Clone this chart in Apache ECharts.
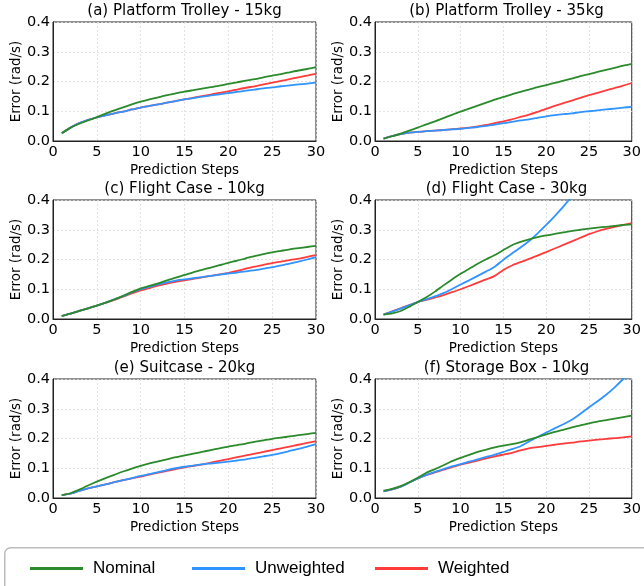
<!DOCTYPE html>
<html>
<head>
<meta charset="UTF-8">
<title>Prediction error</title>
<script src="https://cdn.jsdelivr.net/npm/echarts@6/dist/echarts.min.js"></script>
<style>
  html, body { margin: 0; padding: 0; background: #fff; }
  #chart { width: 644px; height: 586px; }
</style>
</head>
<body>
<div id="chart"></div>
<script>
// prediction steps 1..30
var steps = [1,2,3,4,5,6,7,8,9,10,11,12,13,14,15,16,17,18,19,20,21,22,23,24,25,26,27,28,29,30];
var seriesNames = ['Nominal', 'Unweighted', 'Weighted'];
var panelTitles = ['(a) Platform Trolley - 15kg', '(b) Platform Trolley - 35kg', '(c) Flight Case - 10kg',
                   '(d) Flight Case - 30kg', '(e) Suitcase - 20kg', '(f) Storage Box - 10kg'];
var xTicks = [0, 5, 10, 15, 20, 25, 30];
var yTicks = [0.0, 0.1, 0.2, 0.3, 0.4];

// (a)
var nominalA    = [.026,.045,.058,.069,.080,.092,.103,.113,.123,.132,.140,.147,.154,.160,.166,.171,.176,.181,.186,.192,.197,.203,.208,.214,.220,.225,.231,.237,.242,.248];
var unweightedA = [.026,.045,.060,.071,.079,.086,.093,.099,.106,.112,.118,.123,.129,.134,.140,.144,.149,.153,.157,.161,.165,.169,.173,.177,.180,.184,.187,.190,.193,.196];
var weightedA   = [.026,.045,.060,.071,.079,.086,.093,.099,.106,.112,.118,.123,.129,.134,.140,.145,.151,.156,.162,.167,.173,.179,.184,.190,.196,.202,.208,.214,.220,.226];
// (b)
var nominalB    = [.008,.016,.025,.035,.045,.056,.066,.077,.088,.099,.109,.119,.129,.139,.148,.157,.165,.173,.181,.188,.195,.203,.210,.218,.225,.232,.239,.246,.253,.259];
var unweightedB = [.008,.016,.023,.028,.031,.033,.035,.037,.039,.041,.044,.047,.051,.055,.060,.064,.069,.073,.078,.083,.087,.090,.093,.097,.100,.103,.106,.109,.112,.115];
var weightedB   = [.008,.016,.023,.028,.031,.033,.035,.037,.040,.042,.045,.049,.054,.060,.066,.073,.081,.089,.098,.108,.118,.127,.136,.145,.154,.162,.170,.178,.186,.195];
// (c)
var nominalC    = [.010,.018,.027,.036,.045,.055,.066,.078,.091,.103,.111,.120,.130,.139,.148,.157,.165,.173,.181,.189,.196,.204,.211,.218,.224,.229,.234,.238,.242,.246];
var unweightedC = [.010,.018,.027,.036,.045,.055,.066,.077,.089,.100,.108,.116,.123,.129,.133,.137,.141,.145,.149,.153,.156,.160,.164,.169,.174,.180,.186,.193,.200,.208];
var weightedC   = [.010,.018,.027,.036,.045,.054,.064,.075,.086,.096,.104,.112,.119,.125,.130,.135,.140,.145,.150,.155,.162,.169,.176,.182,.188,.193,.198,.203,.209,.215];
// (d)
var nominalD    = [.015,.019,.027,.041,.057,.073,.092,.113,.133,.152,.169,.186,.201,.215,.232,.248,.259,.268,.275,.281,.286,.291,.296,.300,.304,.307,.310,.313,.316,.318];
var unweightedD = [.015,.025,.035,.046,.057,.066,.076,.087,.101,.116,.130,.145,.160,.176,.199,.220,.240,.262,.288,.316,.346,.378,.412,.448];
var weightedD   = [.015,.026,.036,.047,.057,.064,.072,.080,.090,.100,.111,.122,.133,.145,.165,.180,.191,.202,.213,.225,.237,.249,.261,.273,.285,.295,.303,.310,.316,.322];
// (e)
var nominalE    = [.010,.016,.028,.042,.055,.067,.078,.089,.099,.108,.116,.123,.130,.137,.143,.149,.155,.161,.167,.173,.178,.183,.189,.194,.199,.203,.207,.211,.215,.219];
var unweightedE = [.010,.015,.024,.032,.039,.046,.053,.060,.067,.074,.080,.087,.094,.100,.105,.109,.113,.116,.119,.122,.126,.130,.135,.140,.145,.151,.158,.165,.173,.181];
var weightedE   = [.010,.015,.024,.032,.039,.046,.053,.060,.066,.072,.079,.085,.091,.097,.103,.108,.113,.119,.125,.131,.137,.143,.149,.155,.161,.167,.173,.179,.185,.191];
// (f)
var nominalF    = [.025,.031,.040,.053,.068,.085,.097,.110,.124,.135,.145,.155,.163,.170,.176,.181,.187,.196,.205,.214,.222,.229,.237,.244,.251,.257,.262,.267,.272,.277];
var unweightedF = [.022,.029,.038,.052,.066,.078,.088,.097,.106,.114,.122,.130,.138,.146,.155,.164,.174,.190,.205,.220,.234,.248,.263,.283,.305,.325,.347,.372,.400,.430];
var weightedF   = [.022,.029,.038,.052,.066,.077,.086,.095,.104,.112,.119,.126,.133,.140,.146,.152,.160,.167,.171,.175,.179,.183,.186,.190,.193,.196,.199,.201,.204,.207];

var panelData = [
  [nominalA, unweightedA, weightedA],
  [nominalB, unweightedB, weightedB],
  [nominalC, unweightedC, weightedC],
  [nominalD, unweightedD, weightedD],
  [nominalE, unweightedE, weightedE],
  [nominalF, unweightedF, weightedF]
];

var colors = ['#2b8a2b', '#2f94ff', '#ff3b3b'];
var font = 'DejaVu Sans';

var lefts = [53, 375];
var tops = [22, 200, 379];
var gw = 263, gh = 119;

var grids = [], xAxes = [], yAxes = [], titles = [], series = [];
for (var p = 0; p < 6; p++) {
  var col = p % 2, row = Math.floor(p / 2);
  var l = lefts[col], t = tops[row];
  grids.push({ left: l, top: t, width: gw, height: gh, show: true, borderColor: '#222', borderWidth: 1, backgroundColor: 'transparent' });
  titles.push({
    text: panelTitles[p], left: l + gw / 2, top: t - 18, textAlign: 'center', padding: 0,
    textStyle: { fontFamily: font, fontSize: 15, fontWeight: 'normal', color: '#000' }
  });
  xAxes.push({
    gridIndex: p, type: 'value', min: xTicks[0], max: xTicks[xTicks.length - 1], interval: 5,
    name: 'Prediction Steps', nameLocation: 'middle', nameGap: 22,
    nameTextStyle: { fontFamily: font, fontSize: 13.5, color: '#000' },
    axisLine: { show: true, onZero: false, lineStyle: { color: '#222' } },
    axisTick: { show: false },
    axisLabel: { fontFamily: font, fontSize: 14.5, color: '#000', margin: 4 },
    splitLine: { show: true, lineStyle: { color: '#dcdcdc', type: [2, 2], width: 0.8 } }
  });
  yAxes.push({
    gridIndex: p, type: 'value', min: yTicks[0], max: yTicks[yTicks.length - 1], interval: 0.1,
    name: 'Error (rad/s)', nameLocation: 'middle', nameGap: 30,
    nameTextStyle: { fontFamily: font, fontSize: 13.5, color: '#000' },
    axisLine: { show: true, lineStyle: { color: '#222' } },
    axisTick: { show: false },
    axisLabel: { fontFamily: font, fontSize: 14.5, color: '#000', margin: 3, formatter: function (v) { return v.toFixed(1); } },
    splitLine: { show: true, lineStyle: { color: '#dcdcdc', type: [2, 2], width: 0.8 } }
  });
  for (var s = 0; s < 3; s++) {
    var vals = panelData[p][s];
    series.push({
      name: seriesNames[s], type: 'line', xAxisIndex: p, yAxisIndex: p,
      data: vals.map(function (v, i) { return [steps[i], v]; }),
      showSymbol: false, symbol: 'none', clip: true, smooth: 0.2,
      lineStyle: { color: colors[s], width: 1.8 }, itemStyle: { color: colors[s] },
      z: 5 - s
    });
  }
}

var legendLefts = [30, 192, 375];
var legends = seriesNames.map(function (n, i) {
  return {
    data: [n], left: legendLefts[i], top: 560, padding: 0, icon: 'rect', itemWidth: 53, itemHeight: 3,
    textStyle: { fontFamily: 'Liberation Sans', fontSize: 17, color: '#000', padding: [0, 0, 0, 5] }
  };
});

var chart = echarts.init(document.getElementById('chart'));
chart.setOption({
  animation: false,
  color: colors,
  title: titles,
  grid: grids,
  xAxis: xAxes,
  yAxis: yAxes,
  legend: legends,
  graphic: [{
    type: 'rect', left: 4, top: 547, z: -10,
    shape: { width: 680, height: 60, r: 6 },
    style: { fill: '#fff', stroke: '#bdbdbd', lineWidth: 1.5 }
  }],
  series: series
});
</script>
</body>
</html>
